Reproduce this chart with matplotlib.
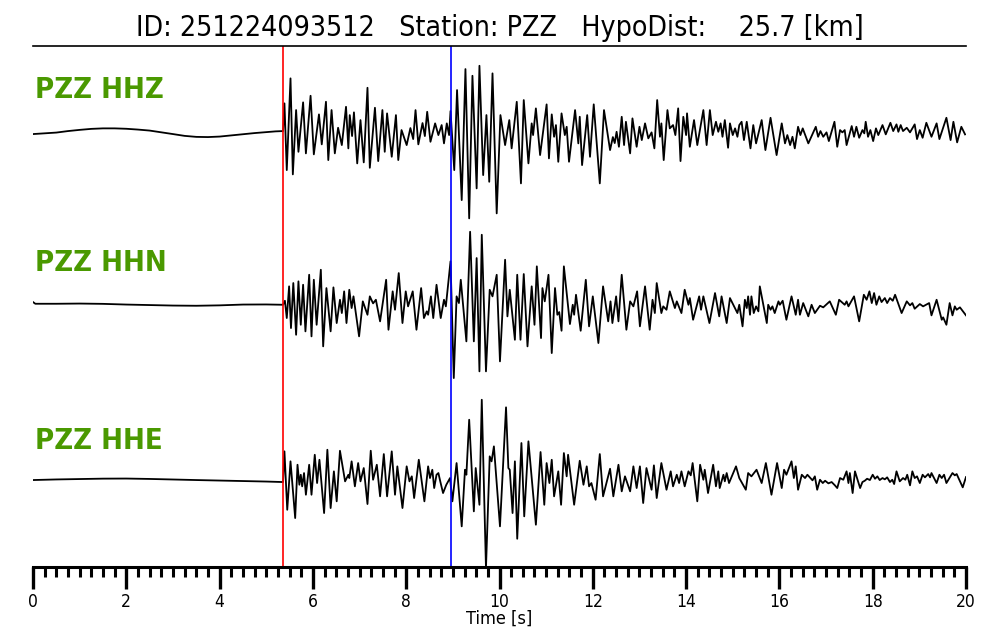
import numpy as np
import matplotlib
matplotlib.use("Agg")
import matplotlib.pyplot as plt
from matplotlib.ticker import MultipleLocator

title = "ID: 251224093512   Station: PZZ   HypoDist:    25.7 [km]"
channels = ["PZZ HHZ", "PZZ HHN", "PZZ HHE"]
p_pick = 5.36   # s
s_pick = 8.96   # s

# (time [s], amplitude), extrema of each trace
hhz = [(0, -3), (0.25, -2.3), (0.5, -1.5), (0.75, 0), (1.0, 1.2), (1.25, 2.2), (1.5, 2.7), (1.75, 2.7),
       (2.0, 2.3), (2.25, 1.5), (2.5, 0.5), (2.75, -1.2), (3.0, -3), (3.25, -4.8), (3.5, -5.8), (3.75, -6),
       (4.0, -5.5), (4.25, -4.3), (4.5, -3), (4.75, -2), (5.0, -1), (5.2, -0.3), (5.36, 0),
       (5.39, 27.7), (5.44, -39), (5.52, 52.7), (5.57, -43.3), (5.64, 21), (5.69, -20.7), (5.79, 28.7),
       (5.85, -22.3), (5.95, 35.3), (6.02, -23.3), (6.13, 16.7), (6.19, -13.3), (6.28, 29.3), (6.33, -29),
       (6.40, 21), (6.47, -22.3), (6.54, 3.3), (6.62, -14), (6.71, 24.3), (6.76, -17.3), (6.79, 16),
       (6.84, -5), (6.88, 18.7), (6.95, -32.3), (7.02, 11), (7.09, -31.3), (7.17, 43.3), (7.22, -36.7),
       (7.33, 23.3), (7.40, -30), (7.49, 21), (7.54, -20.7), (7.59, 17.7), (7.69, -25.7), (7.78, 16),
       (7.83, -29), (7.90, 1), (8.01, -14), (8.09, 3), (8.15, -8), (8.20, 21), (8.26, -13.3), (8.35, 8),
       (8.40, -5), (8.45, 19.3), (8.52, -10.7), (8.62, 7.7), (8.69, -4), (8.76, 6), (8.81, -12.3),
       (8.87, 7.7), (8.92, -4), (8.95, 20), (9.03, -39), (9.09, 41), (9.19, -69), (9.27, 62), (9.35, -87.3),
       (9.42, 55.3), (9.51, -57.3), (9.57, 65.3), (9.65, -44), (9.72, 16), (9.78, -50.7), (9.85, 57.7),
       (9.94, -82.3), (10.02, 16), (10.12, -14), (10.21, 11),
       (10.26, -17.3), (10.37, 29.3), (10.46, -52.3), (10.52, 31), (10.62, -32.3), (10.69, 7.7), (10.72, -4),
       (10.78, 22.7), (10.87, -24), (11.01, 26.7), (11.06, -27.3), (11.12, 16.7), (11.17, -5.7), (11.21, 6),
       (11.26, -30.7), (11.33, 17.7), (11.40, -4), (11.44, 4.3), (11.49, -30.7), (11.62, 21), (11.69, -12.3),
       (11.72, 14.3), (11.77, -34), (11.88, 16), (11.94, -25.7), (12.02, 26.7), (12.15, -52.3), (12.24, 21),
       (12.37, -19), (12.43, -6), (12.47, -12), (12.51, -0.7), (12.56, -15.7), (12.62, 14.3), (12.67, -14),
       (12.71, 9.3), (12.80, -22.3), (12.85, 12.7), (12.94, -15.7), (13.00, 4.3), (13.05, -9), (13.12, 7.7),
       (13.19, -7.3), (13.26, -1.3), (13.32, -17.3), (13.38, 31), (13.44, -5.7), (13.47, 7.7), (13.52, -29),
       (13.60, 21), (13.65, 2.7), (13.72, 6), (13.77, -4), (13.83, 22.7), (13.88, -30), (13.94, 14.3),
       (14.00, -4), (14.02, 17.7), (14.08, -15.7), (14.17, 11), (14.24, -14), (14.37, 21), (14.44, -14),
       (14.51, 21), (14.57, -4), (14.64, 9.3), (14.69, -0.7), (14.74, 7.7), (14.78, -5.7), (14.83, 11),
       (14.90, -16.7), (14.94, 7.7), (15.00, -4), (15.05, 2.7), (15.10, -5.7), (15.14, 6),
       (15.19, 9.3), (15.24, -9), (15.30, 9.3), (15.38, -17.3), (15.44, 6), (15.50, -12.3), (15.62, 11),
       (15.70, -19), (15.81, 13.3), (15.94, -24), (16.05, 7.7), (16.12, -12.3), (16.17, -4), (16.23, -14),
       (16.28, -5.7), (16.33, -17.3), (16.40, 4.3), (16.45, -4), (16.50, 2.7), (16.62, -12.3), (16.78, 4.3),
       (16.83, -5.7), (16.88, 0), (16.94, -5.7), (17.01, -1.3), (17.06, -10), (17.18, 9.3), (17.24, -15.7),
       (17.30, 1), (17.35, -1.3), (17.40, 1), (17.44, -14), (17.55, 5), (17.60, -5.7), (17.65, 4.3),
       (17.71, -6.7), (17.78, 1), (17.82, -2.3), (17.85, 9.3), (17.90, -5.7), (17.95, 1), (18.01, -10),
       (18.07, 2.7), (18.12, -4), (18.21, 6), (18.28, -3.3), (18.38, 8.3), (18.44, 0), (18.51, 6.7),
       (18.55, -0.7), (18.60, 6), (18.65, 0), (18.73, 3.3), (18.80, -1.3), (18.90, 6.7), (18.95, -8),
       (19.01, 1), (19.07, -6.7), (19.15, 8.3), (19.26, -5.7), (19.37, 7.7), (19.43, -8), (19.58, 13.3),
       (19.67, -9), (19.73, 9.3), (19.81, -11.3), (19.90, 4.3), (19.98, -3.3)]

hhn = [(0, 2), (0.05, 0.3), (0.5, 0.3), (1, 0.5), (1.5, 0.2), (2, -0.5), (2.5, -1), (3, -1.5), (3.5, -1.7),
       (4.0, -1.3), (4.5, -0.5), (5.0, -0.4), (5.36, -0.7),
       (5.40, 3.3), (5.44, -14), (5.49, 17.7), (5.53, -24), (5.58, 21), (5.64, -30.7), (5.69, 22.7),
       (5.74, -20.7), (5.79, 19.3), (5.84, -27.3), (5.92, 29.3), (5.97, -32.3), (6.02, 24.3), (6.08, -20.7),
       (6.17, 34.3), (6.22, -42.3), (6.29, 16), (6.38, -27.3), (6.44, 16.7), (6.51, -19), (6.58, 4.3),
       (6.62, -9), (6.67, 12.7), (6.72, -19), (6.78, 14.3), (6.83, -4), (6.87, 7.7), (6.99, -32.3),
       (7.07, 2.7), (7.17, -10.7), (7.22, 7.7), (7.29, 0.7), (7.35, 4.3), (7.44, -17.3), (7.57, 24.3),
       (7.62, -25.7), (7.71, 12.7), (7.76, -5.7), (7.84, 31), (7.92, -19), (7.99, 12.7), (8.04, -2.3),
       (8.14, 12.7), (8.22, -25.7), (8.32, 16), (8.38, -14), (8.44, -7.3), (8.47, -10.7), (8.53, 7.7),
       (8.58, -14), (8.65, 19.3), (8.74, -14), (8.81, 4.3), (8.85, -2.3), (8.95, 42.7), (9.02, -74),
       (9.08, 7.7), (9.13, 1), (9.17, 24.3), (9.29, -37.3), (9.37, 72.3), (9.45, -37.3), (9.51, 46),
       (9.57, -67.3), (9.62, 69.3), (9.71, -67.3), (9.79, 14.3), (9.85, 7.7), (9.94, 29.3), (10.01, -57.3),
       (10.12, 44.3), (10.17, -12.3),
       (10.22, 14.3), (10.33, -35.7), (10.38, 29.3), (10.45, -35.7), (10.52, 30), (10.60, -42.3),
       (10.69, 17.7), (10.75, -20.7), (10.80, 37.7), (10.89, -34), (10.92, 16), (10.97, 2.7), (11.05, 29.3),
       (11.12, -49), (11.19, 16), (11.24, -10.7), (11.28, -8), (11.33, -26.7), (11.38, 37.7), (11.51, -20),
       (11.57, -0.7), (11.60, -10.7), (11.64, 9.3), (11.74, -26.7), (11.85, 24.3), (11.92, -22.3),
       (12.00, 7.7), (12.12, -39), (12.22, 17.7), (12.33, -17.3), (12.38, 2.7), (12.42, -19), (12.50, 7.7),
       (12.55, -17.3), (12.62, 29.3), (12.72, -25.7), (12.80, 2.7), (12.87, -2.3), (12.95, 12.7),
       (13.01, -22.3), (13.12, 17.7), (13.22, -25.7), (13.28, 4.3), (13.33, -9), (13.37, 21), (13.47, -9),
       (13.51, -2.3), (13.58, -5.7), (13.65, 12.7), (13.76, -4), (13.80, 2.7), (13.90, -9), (13.97, 14.3),
       (14.05, -0.7), (14.08, 6), (14.15, -15.7), (14.28, 7.7), (14.32, -5.7), (14.37, 7.7), (14.50, -19),
       (14.62, 11), (14.71, -12.3), (14.76, 7.7), (14.87, -19), (14.94, 6), (15.10, -9), (15.14, -0.7),
       (15.21, -22.3), (15.26, 4.3), (15.30, -4), (15.33, 7.7), (15.37, -10.7), (15.40, 7.7), (15.45, -9),
       (15.50, -2.3), (15.55, -7.3), (15.58, 17.7), (15.73, -19), (15.76, -0.7), (15.81, -5.7),
       (15.85, -2.3), (15.90, -9), (15.98, 2.7), (16.01, -0.7), (16.07, 3.3), (16.15, -15.7), (16.26, 7.7),
       (16.35, -10.7), (16.40, 4.3), (16.44, -10.7), (16.51, 1), (16.62, -12.3), (16.69, -0.7),
       (16.76, -9), (16.87, -1.7), (16.94, -3.3), (17.08, 2.7), (17.21, -10.7), (17.28, 4.3), (17.40, -0.7),
       (17.44, 2.7), (17.48, -2.3), (17.60, 7.7), (17.71, -17.3), (17.81, 9.3), (17.87, 4.3), (17.93, 12.7),
       (17.98, 1), (18.03, 11), (18.08, -0.7), (18.14, 7.7), (18.19, 2), (18.26, 6), (18.31, 1), (18.37, 6),
       (18.43, 3.3), (18.48, 9.3), (18.62, -9), (18.73, 2.7), (18.80, -1.3), (18.85, 1), (18.90, -4.7),
       (19.01, 0), (19.08, -2.3), (19.21, 1), (19.26, -11.3), (19.37, 4.3), (19.48, -15.7), (19.51, -13.3),
       (19.58, -20.7), (19.65, 1), (19.71, -11.3), (19.76, -2.3), (19.80, -5.7), (19.87, -3.3),
       (20.00, -11.3)]

hhe = [(0, 2), (0.5, 2.6), (1, 3), (1.5, 3.4), (2, 3.5), (2.5, 3.1), (3, 2.5), (3.5, 2), (4, 1.5), (4.5, 1),
       (5, 0.5), (5.36, 0),
       (5.39, 30.7), (5.45, -27.7), (5.52, 20.7), (5.62, -36), (5.67, 17.3), (5.71, -2.7), (5.74, 7.3),
       (5.77, -4.3), (5.81, 9), (5.85, -12.7), (5.92, 17.3), (5.97, -12.7), (6.04, 27.3), (6.09, -1),
       (6.14, 22.3), (6.24, -31), (6.31, 32.3), (6.38, -26), (6.45, 10.7), (6.51, -19.3), (6.58, 31.3),
       (6.69, 0.7), (6.76, 7.3), (6.78, 4), (6.83, 20.7), (6.90, -4.3), (6.97, 19), (7.02, 0.7), (7.09, 14),
       (7.17, -22), (7.24, 31.3), (7.29, 2.3), (7.37, 17.3), (7.44, -14.3), (7.52, 28), (7.59, -14.3),
       (7.69, 30.7), (7.76, -12.7), (7.81, 15.7), (7.92, -26), (8.01, 15.7), (8.07, 0.7), (8.12, 5.7),
       (8.17, -16), (8.27, 22.3), (8.39, -19.3), (8.47, 15.7), (8.51, 4), (8.56, 12.3), (8.60, -6),
       (8.65, 7.3), (8.69, 9), (8.73, 0.7), (8.79, -11), (8.86, -2.7), (8.94, 4), (8.99, -19.3), (9.08, 19),
       (9.19, -44.3), (9.26, 12.3), (9.29, 7.3), (9.35, 62.3), (9.45, -29.3), (9.49, 14), (9.57, -22.7),
       (9.62, 82.3), (9.71, -86), (9.79, 25.7), (9.83, 20.7), (9.88, 35.7), (10.01, -44.3),
       (10.14, 74.7), (10.19, 14), (10.22, 12.3), (10.28, -31), (10.33, 20.7), (10.38, -56.7), (10.47, 39),
       (10.53, -34.3), (10.62, 40.7), (10.78, -42.7), (10.88, 30), (10.96, -22.7), (11.01, 19), (11.07, -1),
       (11.12, 22.3), (11.17, -14.3), (11.26, 10.7), (11.32, -22.7), (11.38, 29), (11.44, 5.7), (11.47, 27.3),
       (11.60, -22.7), (11.72, 21.3), (11.80, -2.7), (11.87, 15.7), (11.92, -4.3), (11.97, -1), (12.06, -17.7),
       (12.15, 28), (12.22, -14.3), (12.37, 13.3), (12.44, -14.3), (12.55, 17.3), (12.62, -9.3), (12.69, 5.7),
       (12.80, -9.3), (12.87, 15.7), (12.94, -6), (13.01, 15.7), (13.08, -21), (13.15, 14), (13.26, -7.7),
       (13.31, 16.7), (13.37, -16), (13.47, 19), (13.58, -7.7), (13.67, 10.7), (13.72, -4.3), (13.80, 7.3),
       (13.85, -1), (13.90, 10.7), (13.97, -4.3), (14.05, 10.7), (14.10, 6.7), (14.14, 19), (14.24, -19.3),
       (14.30, 17.3), (14.37, 2.3), (14.40, 12.3), (14.47, -11), (14.58, 17.3), (14.64, -4.3), (14.69, 10.7),
       (14.72, -6), (14.80, 7.3), (14.83, 0.7), (14.87, 9), (14.92, -1), (15.07, 15.7), (15.14, 4),
       (15.28, -7.7), (15.33, 9), (15.40, 5.7), (15.51, 12.3), (15.62, -1), (15.71, 19), (15.83, -12.7),
       (15.95, 19), (16.05, -6), (16.10, 12.3), (16.15, 7.3), (16.26, 20.7), (16.31, 4), (16.35, 15.7),
       (16.40, -7.7), (16.48, 7.3), (16.55, 4), (16.60, 7.3), (16.71, 1.7), (16.76, 5.7), (16.81, -7.7),
       (16.87, 2.3), (16.93, -1), (16.98, 1.3), (17.05, -1.3), (17.12, 0), (17.19, -3.3), (17.24, -6),
       (17.30, 4), (17.37, 2.3), (17.44, 10.7), (17.48, -1), (17.51, 9), (17.57, -11), (17.62, 10.7),
       (17.73, -6), (17.78, 0), (17.83, 1.3), (17.88, 3.3), (17.94, 2), (18.00, 7.3), (18.05, 3.3),
       (18.10, 5.7), (18.15, 2), (18.21, 4), (18.26, 2.7), (18.31, 4.7), (18.37, 0), (18.42, 2.3),
       (18.46, -2), (18.51, 10.7), (18.58, 0.7), (18.65, 4), (18.70, 2.3), (18.74, 7.3), (18.80, -3.3),
       (18.85, 10.7), (18.90, 4), (18.95, 5.7), (19.01, -1), (19.07, 7.3), (19.12, 4.7), (19.19, 8),
       (19.23, 4.7), (19.26, 9), (19.37, -1), (19.43, 7.3), (19.48, 4), (19.53, 7.3), (19.58, -1),
       (19.71, 9), (19.76, 6.7), (19.80, 8), (19.93, -5.3), (20.00, 5)]

traces = [hhz, hhn, hhe]
offsets = [0, -173, -351]

fig = plt.figure(figsize=(10, 6.4), dpi=100)
ax = fig.add_axes([0.033, 0.114, 0.933, 0.814])

for name, tr, off in zip(channels, traces, offsets):
    d = np.array(tr, dtype=float)
    ax.plot(d[:, 0], d[:, 1] + off, color="black", lw=1.3, solid_joinstyle="round")
    ax.text(0.04, off + 41, name, color="#4a9900", fontsize=21, fontweight="bold",
            fontstretch="condensed", va="center", ha="left")

ax.axvline(p_pick, color="red", lw=1.2)
ax.axvline(s_pick, color="blue", lw=1.2)

ax.set_xlim(0, 20)
ax.set_ylim(-436, 85)
ax.set_yticks([])
ax.spines["left"].set_visible(False)
ax.spines["right"].set_visible(False)
ax.spines["top"].set_linewidth(1.2)
ax.spines["bottom"].set_linewidth(2.2)

ax.xaxis.set_major_locator(MultipleLocator(2))
ax.xaxis.set_minor_locator(MultipleLocator(0.25))
ax.tick_params(axis="x", which="major", length=16, width=2.4, pad=3, labelsize=12.5)
ax.tick_params(axis="x", which="minor", length=7.5, width=2.2)
for lab in ax.get_xticklabels():
    lab.set_fontstretch("condensed")
ax.set_xlabel("Time [s]", fontsize=13, labelpad=-1, fontstretch="condensed")
ax.set_title(title, fontsize=20.4, pad=7, fontstretch="condensed")

fig.savefig("out.png", dpi=100)
